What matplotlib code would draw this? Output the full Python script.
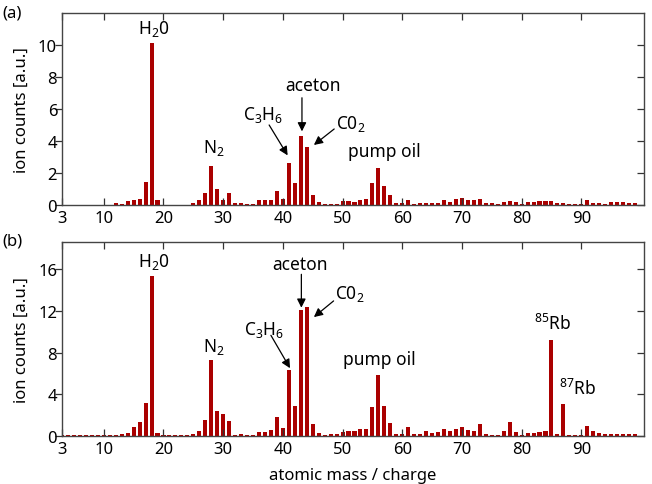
import numpy as np
import matplotlib
matplotlib.use('Agg')
import matplotlib.pyplot as plt
from matplotlib.lines import TICKLEFT

plt.rcParams['font.family'] = ['Noto Sans', 'DejaVu Sans']
plt.rcParams['mathtext.default'] = 'regular'
plt.rcParams['font.size'] = 12

mass = np.arange(3, 100)

# panel (a): ion counts for m/z = 3 ... 99
counts_a = [0.02, 0.02, 0.02, 0.02, 0.02, 0.02, 0.02, 0.02, 0.02,       # 3-11
            0.12, 0.03, 0.25, 0.29, 0.35, 1.42, 10.15, 0.29,            # 12-19
            0.02, 0.02, 0.02, 0.02, 0.02,                               # 20-24
            0.12, 0.31, 0.77, 2.42, 1.0, 0.31, 0.77, 0.1, 0.12,         # 25-33
            0.03, 0.03, 0.31, 0.29, 0.31, 0.87, 0.37, 2.62, 1.37,       # 34-42
            4.31, 3.65, 0.6, 0.2, 0.03, 0.03, 0.03,                     # 43-49
            0.23, 0.23, 0.17, 0.31, 0.37, 1.35, 2.29, 1.17, 0.62,       # 50-58
            0.12, 0.12, 0.29, 0.06, 0.12, 0.12, 0.12, 0.12, 0.31,       # 59-67
            0.2, 0.35, 0.42, 0.31, 0.31, 0.35, 0.1, 0.1, 0.04,          # 68-76
            0.19, 0.25, 0.21, 0.08, 0.19, 0.19, 0.27, 0.25, 0.25,       # 77-85
            0.15, 0.12, 0.04, 0.04, 0.04, 0.31, 0.15, 0.12, 0.04,       # 86-94
            0.17, 0.17, 0.19, 0.15, 0.12]                               # 95-99

# panel (b)
counts_b = [0.1, 0.1, 0.1, 0.1, 0.1, 0.1, 0.1, 0.1, 0.1,                # 3-11
            0.13, 0.16, 0.32, 0.86, 1.31, 3.17, 15.33, 0.32,            # 12-19
            0.1, 0.1, 0.1, 0.1, 0.1,                                    # 20-24
            0.16, 0.51, 1.5, 7.33, 2.37, 2.11, 1.44, 0.13, 0.22,        # 25-33
            0.1, 0.1, 0.42, 0.35, 0.54, 1.86, 0.8, 6.3, 2.85,           # 34-42
            12.1, 12.35, 1.18, 0.26, 0.1, 0.16, 0.16,                   # 43-49
            0.42, 0.51, 0.45, 0.64, 0.7, 2.82, 5.8, 2.88, 1.25,         # 50-58
            0.19, 0.19, 0.9, 0.16, 0.19, 0.45, 0.29, 0.38, 0.64,        # 59-67
            0.48, 0.67, 0.86, 0.58, 0.45, 1.12, 0.19, 0.13, 0.13,       # 68-76
            0.45, 1.31, 0.38, 0.1, 0.26, 0.26, 0.42, 0.51, 9.18,        # 77-85
            0.19, 3.1, 0.06, 0.13, 0.1, 1.0, 0.45, 0.26, 0.16,          # 86-94
            0.19, 0.16, 0.19, 0.19, 0.16]                               # 95-99

xticks = [3, 10, 20, 30, 40, 50, 60, 70, 80, 90]
bar_color = '#aa0000'
lbl = 12.5
arrow = dict(arrowstyle='-|>', color='k', lw=0.9, mutation_scale=13, shrinkA=0, shrinkB=0)

fig = plt.figure(figsize=(6.52, 4.85), dpi=100)
ax1 = fig.add_axes([0.0951, 0.5753, 0.8926, 0.3959])
ax2 = fig.add_axes([0.0951, 0.099, 0.8926, 0.400])


def arr(ax, start, end):
    ax.annotate('', xy=end, xytext=start, arrowprops=arrow)


ax1.bar(mass, counts_a, width=0.68, color=bar_color)
ax1.set_ylim(0, 12)
ax1.set_yticks([0, 2, 4, 6, 8, 10])

ax1.text(18.3, 11.06, 'H$_2$0', ha='center', va='center', fontsize=lbl)
ax1.text(28.4, 3.6, 'N$_2$', ha='center', va='center', fontsize=lbl)
ax1.text(36.6, 5.7, 'C$_3$H$_6$', ha='center', va='center', fontsize=lbl)
arr(ax1, (37.7, 5.0), (40.8, 3.1))
ax1.text(45.0, 7.5, 'aceton', ha='center', va='center', fontsize=lbl)
arr(ax1, (43.2, 6.7), (43.2, 4.6))
ax1.text(48.9, 5.1, 'C0$_2$', ha='left', va='center', fontsize=lbl)
arr(ax1, (48.6, 4.75), (45.2, 3.75))
ax1.text(57.0, 3.4, 'pump oil', ha='center', va='center', fontsize=lbl)
fig.text(0.003, 0.972, '(a)', ha='left', va='center', fontsize=12)

ax2.bar(mass, counts_b, width=0.68, color=bar_color)
ax2.set_ylim(0, 18.6)
ax2.set_yticks([0, 4, 8, 12, 16])
ax2.set_xlabel('atomic mass / charge', fontsize=12, labelpad=7)

ax2.text(18.3, 16.8, 'H$_2$0', ha='center', va='center', fontsize=lbl)
ax2.text(28.5, 8.6, 'N$_2$', ha='center', va='center', fontsize=lbl)
ax2.text(36.85, 10.3, 'C$_3$H$_6$', ha='center', va='center', fontsize=lbl)
arr(ax2, (38.0, 9.65), (41.2, 6.5))
ax2.text(42.9, 16.5, 'aceton', ha='center', va='center', fontsize=lbl)
arr(ax2, (43.1, 15.5), (43.1, 12.3))
ax2.text(48.8, 13.75, 'C0$_2$', ha='left', va='center', fontsize=lbl)
arr(ax2, (48.5, 12.95), (45.2, 11.4))
ax2.text(56.1, 7.4, 'pump oil', ha='center', va='center', fontsize=lbl)
ax2.text(85.2, 10.85, '$^{85}$Rb', ha='center', va='center', fontsize=lbl)
ax2.text(89.4, 4.6, '$^{87}$Rb', ha='center', va='center', fontsize=lbl)
fig.text(0.003, 0.503, '(b)', ha='left', va='center', fontsize=12)

for ax in (ax1, ax2):
    ax.set_xlim(3, 100.5)
    ax.set_xticks(xticks)
    ax.tick_params(direction='in', top=True, right=True, length=5, width=0.9,
                   colors='#333333', labelcolor='black', labelsize=12)
    for s in ax.spines.values():
        s.set_color('#444444')
        s.set_linewidth(1.0)
    ax.set_ylabel('ion counts [a.u.]', fontsize=12, labelpad=6)
    # left ticks point outward, the others inward
    for t in ax.yaxis.get_major_ticks():
        t.tick1line.set_marker(TICKLEFT)

fig.savefig('out.png', dpi=100)
